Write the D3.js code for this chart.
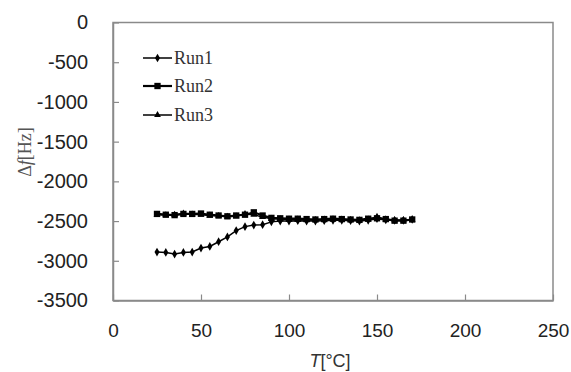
<!DOCTYPE html>
<html>
<head>
<meta charset="utf-8">
<script src="https://cdn.jsdelivr.net/npm/d3@7"></script>
<style>
  body { margin: 0; background: #fff; }
  svg { display: block; }
</style>
</head>
<body>
<div id="chart"></div>
<script>
const temps = [25, 30, 35, 40, 45, 50, 55, 60, 65, 70, 75, 80, 85, 90, 95,
               100, 105, 110, 115, 120, 125, 130, 135, 140, 145, 150, 155, 160, 165, 170];

const run1 = [-2890, -2895, -2915, -2895, -2890, -2840, -2820, -2760, -2700, -2620,
              -2570, -2550, -2545, -2510, -2500, -2500, -2495, -2500, -2500, -2495,
              -2490, -2490, -2495, -2500, -2490, -2470, -2485, -2490, -2490, -2480];

const run2 = [-2410, -2420, -2425, -2410, -2410, -2405, -2420, -2430, -2440, -2430,
              -2420, -2390, -2430, -2460, -2465, -2470, -2470, -2475, -2480, -2475,
              -2470, -2475, -2480, -2485, -2470, -2465, -2475, -2495, -2495, -2480];

const run3 = [-2420, -2425, -2420, -2405, -2415, -2420, -2430, -2435, -2445, -2440,
              -2410, -2420, -2450, -2470, -2475, -2480, -2480, -2485, -2485, -2480,
              -2475, -2480, -2485, -2490, -2480, -2445, -2480, -2490, -2490, -2485];

const xTicks = [0, 50, 100, 150, 200, 250];
const yTicks = [0, -500, -1000, -1500, -2000, -2500, -3000, -3500];

const width = 571;
const height = 372;

const svg = d3.select('#chart')
  .append('svg')
  .attr('width', width)
  .attr('height', height);

const x = d3.scaleLinear().domain([0, 250]).range([113, 553]);
const y = d3.scaleLinear().domain([-3500, 0]).range([300.5, 22.5]);

const axisColor = '#8a8a8a';

// frame
svg.append('rect')
  .attr('x', x(0))
  .attr('y', y(0))
  .attr('width', x(250) - x(0))
  .attr('height', y(-3500) - y(0))
  .attr('fill', 'none')
  .attr('stroke', axisColor)
  .attr('stroke-width', 1.5);

const plainFormat = (d) => String(d);

const xAxis = svg.append('g')
  .attr('transform', `translate(0,${y(-3500)})`)
  .call(d3.axisBottom(x).tickValues(xTicks).tickFormat(plainFormat)
    .tickSizeInner(-6).tickSizeOuter(0).tickPadding(23));

const yAxis = svg.append('g')
  .attr('transform', `translate(${x(0)},0)`)
  .call(d3.axisLeft(y).tickValues(yTicks).tickFormat(plainFormat)
    .tickSizeInner(-6).tickSizeOuter(0).tickPadding(25));

[xAxis, yAxis].forEach((g, i) => {
  g.select('.domain').attr('stroke', axisColor).attr('stroke-width', 1.5);
  g.selectAll('.tick line').attr('stroke', axisColor).attr('stroke-width', 1.2);
  g.selectAll('.tick text')
    .attr('fill', '#222')
    .style('font-family', '"Liberation Sans", Arial, sans-serif')
    .style('font-size', i === 0 ? '19px' : '20px');
});

// series
const series = [
  { name: 'Run1', values: run1, symbol: d3.symbolDiamond, size: 22, lineWidth: 1.5 },
  { name: 'Run2', values: run2, symbol: d3.symbolSquare, size: 40, lineWidth: 2.2 },
  { name: 'Run3', values: run3, symbol: d3.symbolTriangle, size: 20, lineWidth: 1.5 }
];

const line = d3.line()
  .x((d) => x(d[0]))
  .y((d) => y(d[1]));

series.forEach((s) => {
  const pts = temps.map((t, i) => [t, s.values[i]]);
  const group = svg.append('g').attr('class', s.name);
  group.append('path')
    .datum(pts)
    .attr('d', line)
    .attr('fill', 'none')
    .attr('stroke', '#000')
    .attr('stroke-width', s.lineWidth);
  group.selectAll('path.pt')
    .data(pts)
    .enter()
    .append('path')
    .attr('class', 'pt')
    .attr('transform', (d) => `translate(${x(d[0])},${y(d[1])})`)
    .attr('d', d3.symbol().type(s.symbol).size(s.size))
    .attr('fill', '#000');
});

// legend
const legend = svg.append('g').attr('class', 'legend');
const legendY = [58, 86, 115];
series.forEach((s, i) => {
  const lg = legend.append('g').attr('transform', `translate(143,${legendY[i]})`);
  lg.append('line')
    .attr('x1', 0).attr('x2', 29)
    .attr('y1', 0).attr('y2', 0)
    .attr('stroke', '#000')
    .attr('stroke-width', s.lineWidth);
  lg.append('path')
    .attr('transform', 'translate(14.5,0)')
    .attr('d', d3.symbol().type(s.symbol).size(s.size))
    .attr('fill', '#000');
  lg.append('text')
    .attr('x', 31)
    .attr('y', 6)
    .attr('fill', '#333')
    .style('font-family', '"Liberation Serif", "Times New Roman", serif')
    .style('font-size', '18px')
    .text(s.name);
});

// axis titles
svg.append('text')
  .attr('transform', 'translate(31,152) rotate(-90)')
  .attr('text-anchor', 'middle')
  .attr('fill', '#555')
  .style('font-family', '"Liberation Serif", "Times New Roman", serif')
  .style('font-size', '18px')
  .html('Δ<tspan font-style="italic">f</tspan>[Hz]');

svg.append('text')
  .attr('x', 330)
  .attr('y', 367)
  .attr('text-anchor', 'middle')
  .attr('fill', '#333')
  .style('font-family', '"Liberation Sans", Arial, sans-serif')
  .style('font-size', '18px')
  .html('<tspan font-style="italic">T</tspan>[°C]');
</script>
</body>
</html>
